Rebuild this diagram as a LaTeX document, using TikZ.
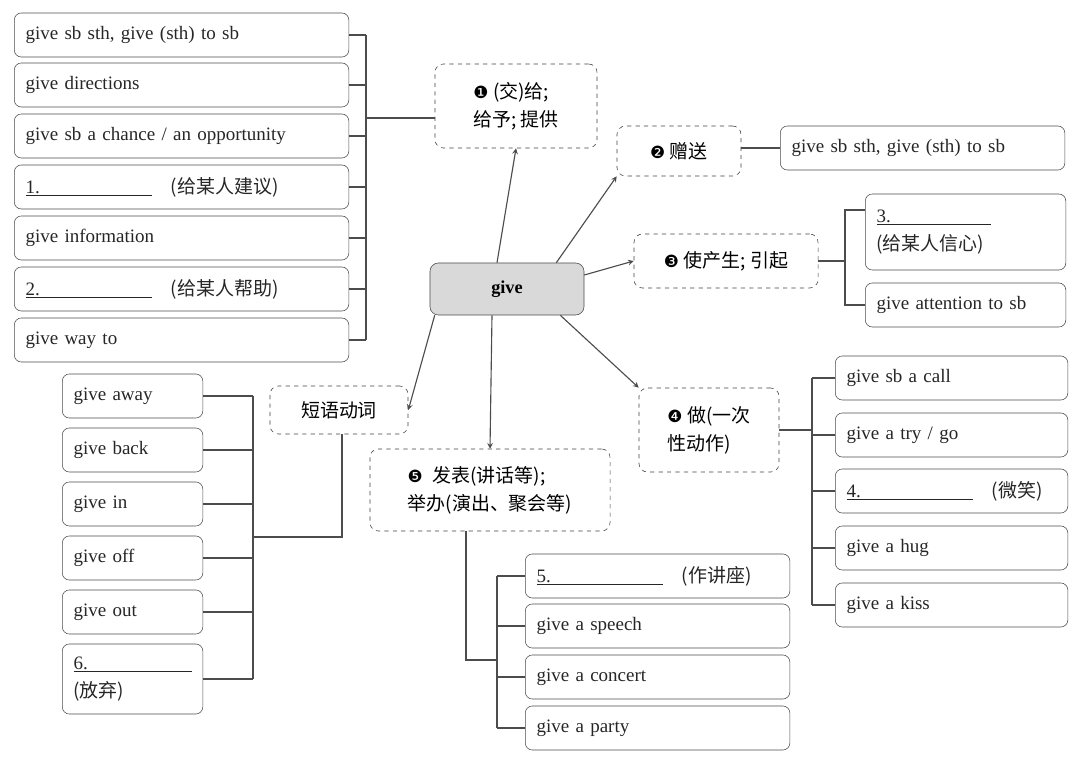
\documentclass[tikz,border=0pt]{standalone}
\usepackage{fontspec}
\setmainfont{Liberation Serif}
\newfontfamily\cjk{Noto Sans CJK SC}
\newfontfamily\dingf{DejaVu Sans}
\usetikzlibrary{positioning}
\newcommand{\cn}[1]{{\cjk #1}}
\newcommand{\circnum}[1]{{\dingf\fontsize{12}{14}\selectfont #1}}
\newcommand{\blank}[2]{\underline{#1\hspace{#2}}}
\tikzset{
  leaf/.style={draw=black!70,rounded corners=5pt,minimum height=1.1cm,anchor=west,inner xsep=8pt,text=black!85,align=left},
  sense/.style={draw=black!75,dashed,rounded corners=6pt,align=left,inner sep=5pt},
  link/.style={draw=black!70,thick},
  arr/.style={draw=black!70,thick,->,>=stealth}
}
\begin{document}
\begin{tikzpicture}[x=0.025cm,y=-0.025cm,font=\fontsize{13.5}{20}\selectfont]
\useasboundingbox (0,0) rectangle (1080,766);
% centre
\node[draw=black!70,fill=black!15,rounded corners=6pt,minimum width=3.85cm,minimum height=1.3cm,font=\bfseries\fontsize{13}{16}\selectfont] (give) at (507,289) {give};
% senses
\node[sense,minimum width=4.05cm,minimum height=2.1cm] (s1) at (516,106) {\circnum{❶} \cn{(交)给;}\\\cn{给予; 提供}};
\node[sense,minimum width=3.1cm,minimum height=1.25cm] (s2) at (679,151) {\circnum{❷} \cn{赠送}};
\node[sense,minimum width=4.6cm,minimum height=1.35cm] (s3) at (726,261) {\circnum{❸} \cn{使产生; 引起}};
\node[sense,minimum width=3.5cm,minimum height=2.1cm] (s4) at (709,430) {\circnum{❹} \cn{做(一次}\\\cn{性动作)}};
\node[sense,minimum width=6cm,minimum height=2.05cm] (s5) at (490,490) {\circnum{❺} \ \cn{发表(讲话等);}\\\cn{举办(演出、聚会等)}};
\node[sense,minimum width=3.45cm,minimum height=1.2cm] (ph) at (339,410) {\cn{短语动词}};
% arrows
\draw[arr] (give.north) ++(-10,0) -- (s1.south);
\draw[arr] (give.north east) ++(-28,0) -- (s2.south west);
\draw[arr] (give.east) ++(0,-14) -- (s3.west);
\draw[arr] (give.south east) ++(-24,0) -- (s4.north west);
\draw[arr] (give.south) ++(-15,0) -- (s5.north);
\draw[arr] (give.south west) ++(5,0) -- (ph.east);
% sense 1 list
\foreach \y/\t [count=\i] in {35/{give sb sth, give (sth) to sb},85/{give directions},136/{give sb a chance / an opportunity},187/{\blank{1.}{2.8cm}\quad\cn{(给某人建议)}},238/{give information},289/{\blank{2.}{2.8cm}\quad\cn{(给某人帮助)}},340/{give way to}}{
  \node[leaf,text width=7.8cm] (a\i) at (14,\y) {\t};
  \draw[link] (a\i.east) -- (366,\y);
}
\draw[link] (366,35) -- (366,340);
\draw[link] (366,118) -- (s1.west |- 366,118);
% sense 2
\node[leaf,text width=6.55cm] (b1) at (780,148) {give sb sth, give (sth) to sb};
\draw[link] (s2.east |- b1.west) -- (b1.west);
% sense 3
\node[leaf,text width=4.45cm,minimum height=1.9cm] (c1) at (865,232) {\blank{3.}{2.5cm}\\\cn{(给某人信心)}};
\node[leaf,text width=4.45cm] (c2) at (865,305) {give attention to sb};
\draw[link] (s3.east) -- (845,261);
\draw[link] (865,210) -- (845,210) -- (845,305) -- (c2.west);
% sense 4
\foreach \y/\t [count=\i] in {378/{give sb a call},435/{give a try / go},491/{\blank{4.}{2.8cm}\quad\cn{(微笑)}},548/{give a hug},605/{give a kiss}}{
  \node[leaf,text width=5.25cm] (d\i) at (835,\y) {\t};
  \draw[link] (d\i.west) -- (812,\y);
}
\draw[link] (812,378) -- (812,605);
\draw[link] (s4.east) -- (812,430);
% sense 5
\foreach \y/\t [count=\i] in {576/{\blank{5.}{2.8cm}\quad\cn{(作讲座)}},626/{give a speech},677/{give a concert},728/{give a party}}{
  \node[leaf,text width=6.05cm] (e\i) at (525,\y) {\t};
  \draw[link] (e\i.west) -- (497,\y);
}
\draw[link] (497,576) -- (497,728);
\draw[link] (466,531) -- (466,660) -- (497,660);
% phrasal verbs
\foreach \y/\t [count=\i] in {396/{give away},450/{give back},504/{give in},558/{give off},612/{give out}}{
  \node[leaf,text width=2.95cm] (f\i) at (62,\y) {\t};
  \draw[link] (f\i.east) -- (253,\y);
}
\node[leaf,text width=2.95cm,minimum height=1.75cm] (f6) at (62,679) {\blank{6.}{2.6cm}\\\cn{(放弃)}};
\draw[link] (f6.east) -- (253,679);
\draw[link] (253,396) -- (253,679);
\draw[link] (342,434) -- (342,537) -- (253,537);
\end{tikzpicture}
\end{document}
